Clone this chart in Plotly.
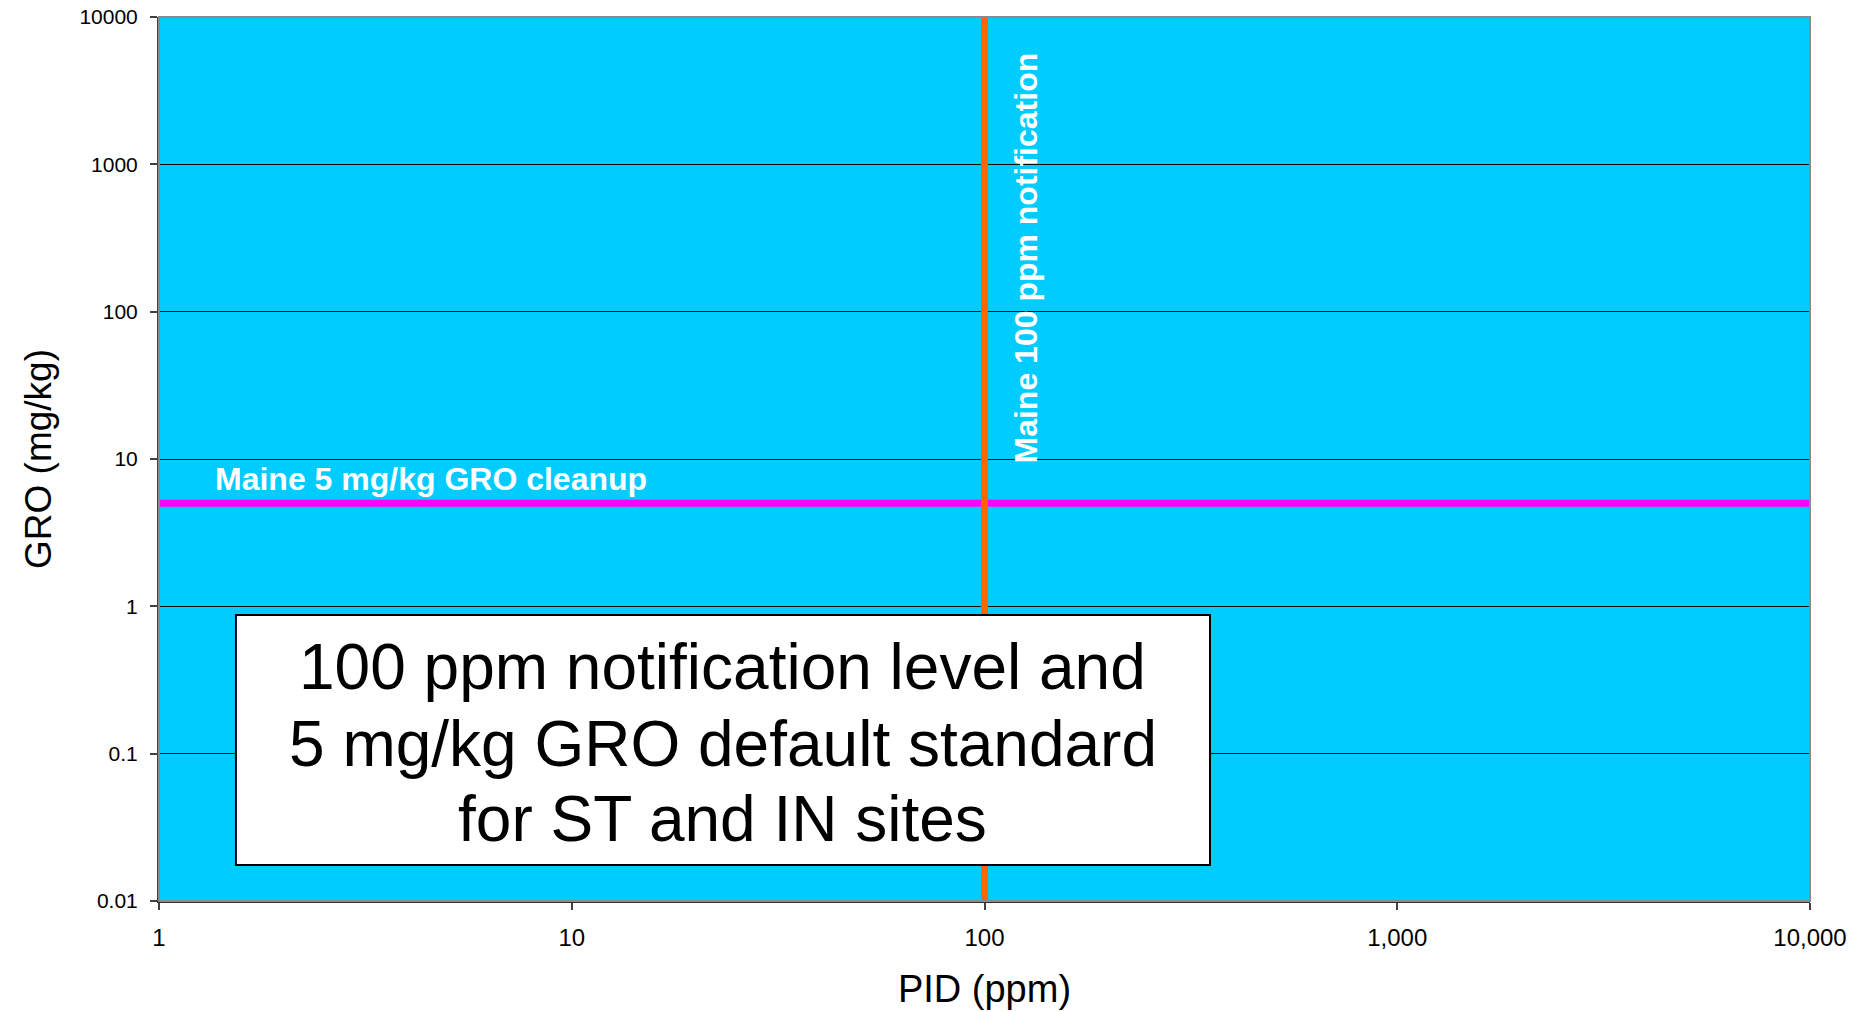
import math
import plotly.graph_objects as go

# Axis ticks (log scales)
x_tick_vals = [1, 10, 100, 1000, 10000]
x_tick_text = ["1", "10", "100", "1,000", "10,000"]
y_tick_vals = [0.01, 0.1, 1, 10, 100, 1000, 10000]
y_tick_text = ["0.01", "0.1", "1", "10", "100", "1000", "10000"]

# Regulatory thresholds
pid_notification_ppm = 100      # Maine PID notification level
gro_cleanup_mgkg = 5            # Maine GRO cleanup standard
x_range = [1, 10000]
y_range = [0.01, 10000]

notification_label = "Maine 100 ppm notification"
cleanup_label = "Maine 5 mg/kg GRO cleanup"
box_lines = [
    "100 ppm notification level and",
    "5 mg/kg GRO default standard",
    "for ST and IN sites",
]

FONT = "Arial, 'Liberation Sans', sans-serif"

fig = go.Figure()

# Horizontal cleanup line
fig.add_trace(go.Scatter(
    x=x_range, y=[gro_cleanup_mgkg, gro_cleanup_mgkg],
    mode="lines", line=dict(color="#FF00FF", width=7),
    hoverinfo="skip", showlegend=False,
))
# Vertical notification line
fig.add_trace(go.Scatter(
    x=[pid_notification_ppm, pid_notification_ppm], y=y_range,
    mode="lines", line=dict(color="#FF6600", width=7),
    hoverinfo="skip", showlegend=False,
))

# Line labels
fig.add_annotation(
    x=0.0327, xref="paper", xanchor="left",
    y=math.log10(gro_cleanup_mgkg), yref="y", yanchor="middle", yshift=24,
    text="<b>" + cleanup_label + "</b>", showarrow=False,
    font=dict(family=FONT, size=32, color="white"),
)
fig.add_annotation(
    x=math.log10(pid_notification_ppm), xref="x", xshift=41,
    y=0.7274, yref="paper", yanchor="middle", xanchor="center",
    text="<b>" + notification_label + "</b>", textangle=-90, showarrow=False,
    font=dict(family=FONT, size=32, color="white"),
)

# Explanatory text box
box_x0, box_x1, box_y0, box_y1 = 0.0466, 0.6366, 0.0407, 0.3235
fig.add_shape(
    type="rect", xref="paper", yref="paper",
    x0=box_x0, x1=box_x1, y0=box_y0, y1=box_y1,
    fillcolor="white", line=dict(color="black", width=2), layer="above",
)
line_centres = [0.2652, 0.1773, 0.0923]
for txt, yc in zip(box_lines, line_centres):
    fig.add_annotation(
        x=(box_x0 + box_x1) / 2, y=yc,
        xref="paper", yref="paper", xanchor="center", yanchor="middle",
        text=txt, showarrow=False, align="center",
        font=dict(family=FONT, size=64, color="black"),
    )

# Plot-area border (top/right lighter grey)
fig.add_shape(
    type="rect", xref="paper", yref="paper", x0=0, x1=1, y0=0, y1=1,
    line=dict(color="#8a8a8a", width=2), fillcolor="rgba(0,0,0,0)", layer="above",
)

fig.update_xaxes(
    type="log", range=[math.log10(x_range[0]), math.log10(x_range[1])],
    tickvals=x_tick_vals, ticktext=x_tick_text, automargin=False,
    ticks="outside", ticklen=7, tickwidth=1.5, tickcolor="#404040",
    showgrid=False, showline=True, linecolor="#303030", linewidth=2,
    tickfont=dict(family=FONT, size=24, color="black"),
    ticklabelstandoff=7,
    title=dict(text="PID (ppm)", font=dict(family=FONT, size=38, color="black"), standoff=26),
)
fig.update_yaxes(
    type="log", range=[math.log10(y_range[0]), math.log10(y_range[1])],
    tickvals=y_tick_vals, ticktext=y_tick_text, automargin=False,
    ticks="outside", ticklen=7, tickwidth=1.5, tickcolor="#404040",
    showgrid=True, gridcolor="#0a0a0a", gridwidth=1,
    showline=True, linecolor="#404040", linewidth=2,
    tickfont=dict(family=FONT, size=21, color="black"),
    ticklabelstandoff=8,
    title=dict(text="GRO (mg/kg)", font=dict(family=FONT, size=37, color="black"), standoff=16),
)

fig.update_layout(
    width=1875, height=1012,
    margin=dict(l=159, r=65, t=17, b=111, autoexpand=False),
    plot_bgcolor="#00CCFF", paper_bgcolor="white",
    showlegend=False,
)

fig.write_html("out.html", config={"displayModeBar": False})
